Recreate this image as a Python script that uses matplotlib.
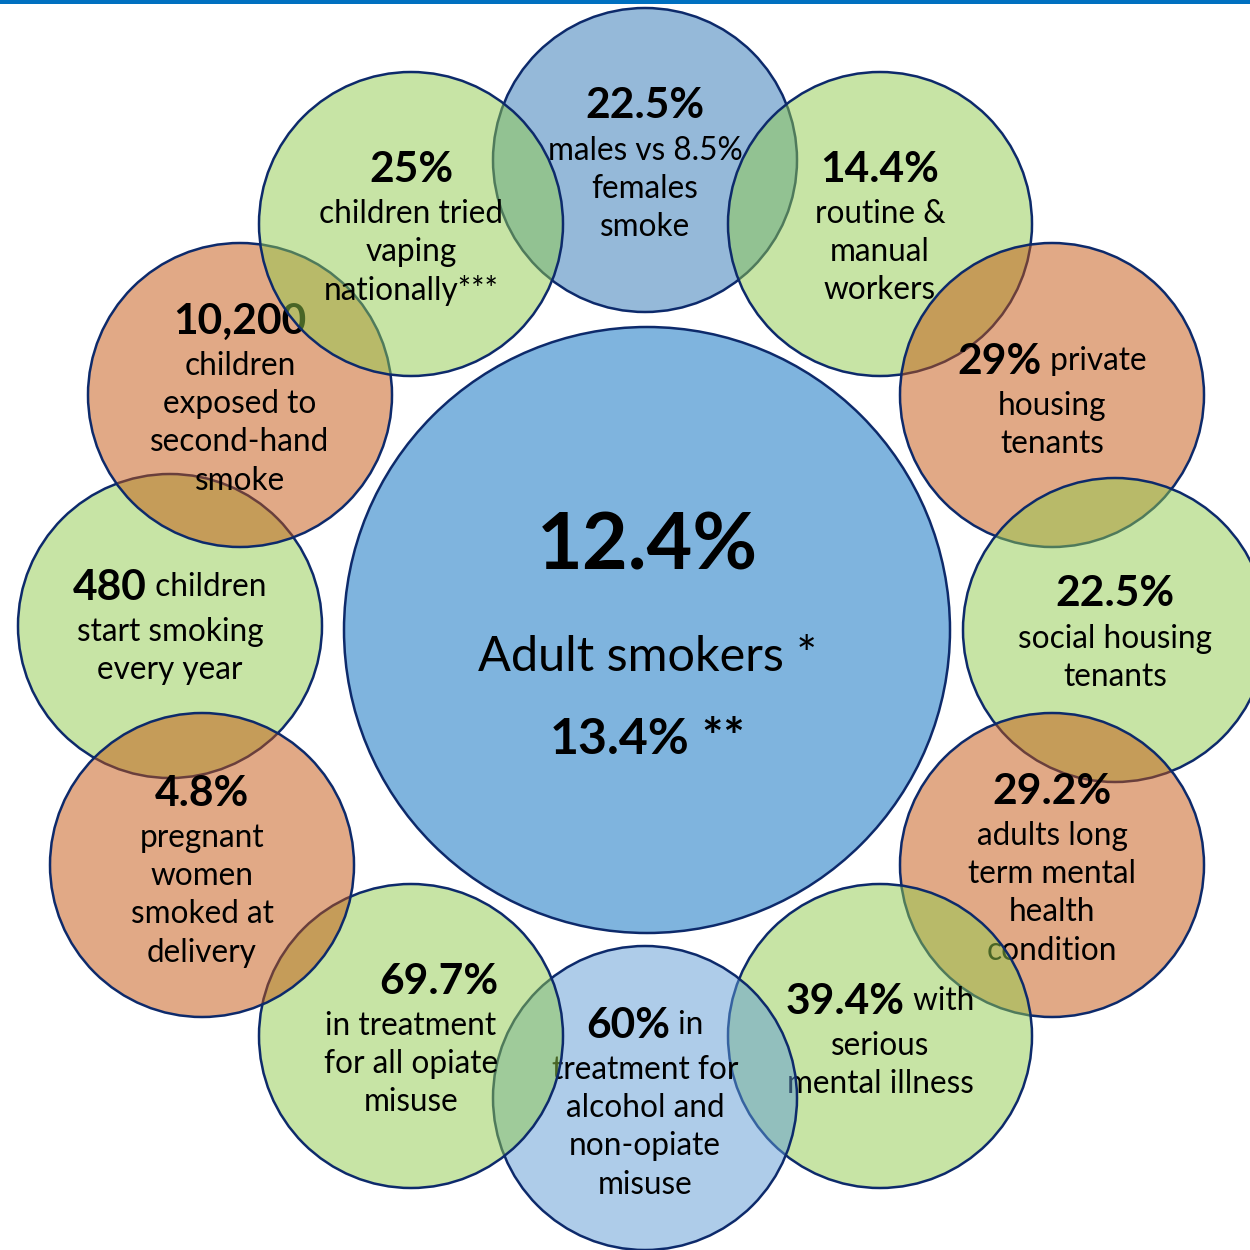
import matplotlib
matplotlib.use("Agg")
import matplotlib.pyplot as plt
from matplotlib.patches import Circle, Rectangle

plt.rcParams['font.family'] = ['Lato', 'DejaVu Sans']

# ---------------- data ----------------
centre_headline = "12.4%"
centre_label = "Adult smokers *"
centre_second = "13.4%"
centre_second_note = " **"

# each outer bubble: list of lines; each line is a list of (text, bold) segments
bubble_headlines = ["22.5%", "14.4%", "29%", "22.5%", "29.2%", "39.4%",
                    "60%", "69.7%", "480", "4.8%", "10,200", "25%"]
bubble_lines = [
    [[("22.5%", True)], [("males vs 8.5%", False)], [("females", False)], [("smoke", False)]],
    [[("14.4%", True)], [("routine &", False)], [("manual", False)], [("workers", False)]],
    [[("29%", True), (" private", False)], [("housing", False)], [("tenants", False)]],
    [[("22.5%", True)], [("social housing", False)], [("tenants", False)]],
    [[("29.2%", True)], [("adults long", False)], [("term mental", False)], [("health", False)], [("condition", False)]],
    [[("39.4%", True), (" with", False)], [("serious", False)], [("mental illness", False)]],
    [[("60%", True), (" in", False)], [("treatment for", False)], [("alcohol and", False)], [("non-opiate", False)], [("misuse", False)]],
    [[("69.7%", True)], [("in treatment", False)], [("for all opiate", False)], [("misuse", False)]],
    [[("480", True), (" children", False)], [("start smoking", False)], [("every year", False)]],
    [[("4.8%", True)], [("pregnant", False)], [("women", False)], [("smoked at", False)], [("delivery", False)]],
    [[("10,200", True)], [("children", False)], [("exposed to", False)], [("second-hand", False)], [("smoke", False)]],
    [[("25%", True)], [("children tried", False)], [("vaping", False)], [("nationally***", False)]],
]
bubble_kind = ["blue", "green", "orange", "green", "orange", "green",
               "lightblue", "green", "green", "orange", "orange", "green"]

# ---------------- layout (pixels, y down) ----------------
bubble_xy = [(645, 160), (880, 224), (1052, 395), (1115, 630), (1052, 865), (880, 1036),
             (645, 1098), (411, 1036), (170, 626), (202, 865), (240, 395), (411, 224)]
bubble_r = 152
bubble_text_y0 = [103, 166, 358, 591, 788, 998, 1022, 978, 584, 790, 318, 166]
first_line_dx = [0, 0, 0, 0, 0, 0, 0, 28, 0, 0, 0, 0]
line_gap = 38.2
first_gap = 45

centre_xy = (647, 630)
centre_r = 303

fills = {"blue": (45/255, 117/255, 181/255, 0.5),
         "lightblue": (95/255, 155/255, 213/255, 0.5),
         "green": (145/255, 203/255, 77/255, 0.5),
         "orange": (197/255, 85/255, 15/255, 0.5)}
edge = "#0D2A6B"

W = H = 1250
fig = plt.figure(figsize=(12.5, 12.5), dpi=100)
ax = fig.add_axes([0, 0, 1, 1])
ax.set_xlim(0, W)
ax.set_ylim(H, 0)
ax.set_aspect('equal')
ax.axis('off')

ax.add_patch(Rectangle((0, 0), W, 4, color="#0070C0", zorder=100, lw=0))

renderer = fig.canvas.get_renderer()

BOLD_SIZE = 30.6
NORM_SIZE = 22.7


def text_width(s, bold, size):
    t = ax.text(0, 0, s, fontsize=size, fontweight='bold' if bold else 'normal')
    bb = t.get_window_extent(renderer)
    t.remove()
    return bb.width  # pixels == data units here


def draw_line(segments, cx, cy, z, bold_size=BOLD_SIZE, norm_size=NORM_SIZE):
    widths = [text_width(s, b, bold_size if b else norm_size) for s, b in segments]
    total = sum(widths)
    x = cx - total / 2
    for (s, b), w in zip(segments, widths):
        ax.text(x, cy, s, fontsize=bold_size if b else norm_size,
                fontweight='bold' if b else 'normal', ha='left', va='center_baseline',
                color='black', zorder=z)
        x += w


order = [0, 1, 2, 3, 4, 5, 6, 7, 8, 9, 10, 11]
for k, i in enumerate(order):
    z = 10 + 2 * k
    cx, cy = bubble_xy[i]
    ax.add_patch(Circle((cx, cy), bubble_r, facecolor=fills[bubble_kind[i]],
                        edgecolor=edge, lw=1.8, zorder=z))
    y = bubble_text_y0[i]
    for j, line in enumerate(bubble_lines[i]):
        dx = first_line_dx[i] if j == 0 else 0
        draw_line(line, cx + dx, y, z + 1)
        y += first_gap if j == 0 else line_gap

# centre bubble
ax.add_patch(Circle(centre_xy, centre_r, facecolor="#7FB4DE", edgecolor=edge, lw=1.8, zorder=5))
ax.text(centre_xy[0], 540, centre_headline, fontsize=57, fontweight='bold',
        ha='center', va='center_baseline', zorder=6)
ax.text(centre_xy[0], 653, centre_label, fontsize=35,
        ha='center', va='center_baseline', zorder=6)
draw_line([(centre_second, True), (centre_second_note, True)], centre_xy[0], 735, 6,
          bold_size=36, norm_size=36)

fig.savefig("out.png", dpi=100)
